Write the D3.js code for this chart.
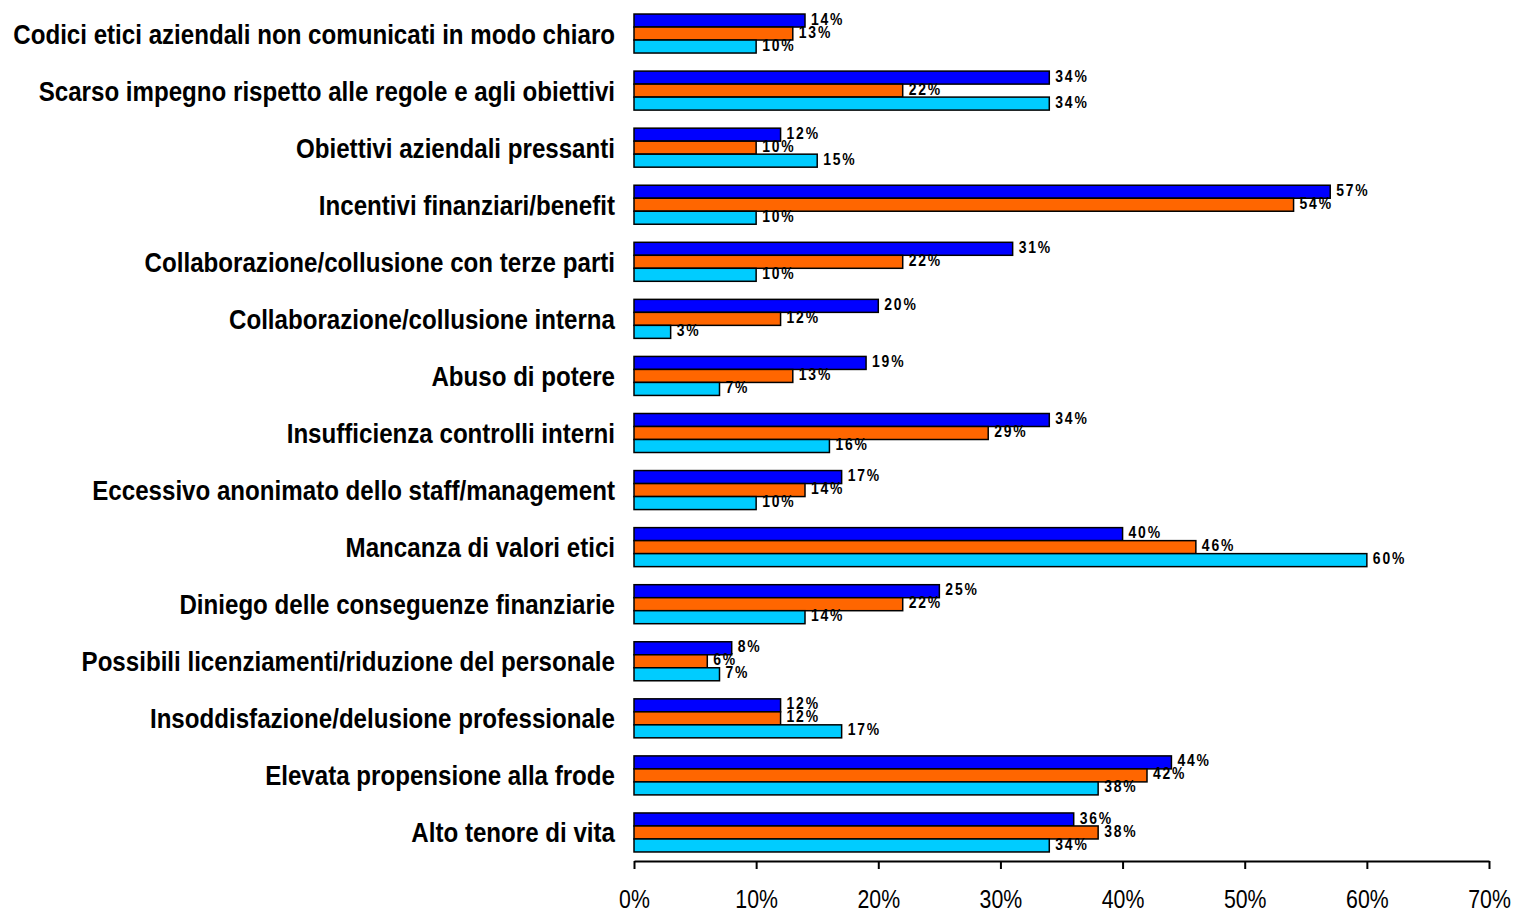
<!DOCTYPE html>
<html><head><meta charset="utf-8">
<script src="https://cdn.jsdelivr.net/npm/d3@7"></script>
<style>
body{margin:0;background:#fff;}
svg{display:block;}
.cat{font-family:"Liberation Sans",Arial,sans-serif;font-weight:bold;font-size:28px;}
.tick text{font-family:"Liberation Sans",Arial,sans-serif;font-size:26px;}
.val{font-family:"Liberation Sans",Arial,sans-serif;font-weight:bold;font-size:17px;letter-spacing:2.2px;}
</style></head><body>
<svg id="chart" width="1519" height="913"></svg>
<script>
const categories = [
 "Codici etici aziendali non comunicati in modo chiaro",
 "Scarso impegno rispetto alle regole e agli obiettivi",
 "Obiettivi aziendali pressanti",
 "Incentivi finanziari/benefit",
 "Collaborazione/collusione con terze parti",
 "Collaborazione/collusione interna",
 "Abuso di potere",
 "Insufficienza controlli interni",
 "Eccessivo anonimato dello staff/management",
 "Mancanza di valori etici",
 "Diniego delle conseguenze finanziarie",
 "Possibili licenziamenti/riduzione del personale",
 "Insoddisfazione/delusione professionale",
 "Elevata propensione alla frode",
 "Alto tenore di vita"
];
const seriesA = [14,34,12,57,31,20,19,34,17,40,25,8,12,44,36];
const seriesB = [13,22,10,54,22,12,13,29,14,46,22,6,12,42,38];
const seriesC = [10,34,15,10,10,3,7,16,10,60,14,7,17,38,34];
const seriesNames = ["A","B","C"];
const seriesColors = ["#0000FF","#FF6600","#00CCFF"];
const tickValues = [0,10,20,30,40,50,60,70];

const narrow = 0.82;
const svg = d3.select("#chart");
const x = d3.scaleLinear().domain([0,70]).range([634,1489]);
const y = d3.scaleBand().domain(categories).range([5,861]);
const groupH = 39;
const y1 = d3.scaleBand().domain(seriesNames).range([0,groupH]);

const data = categories.map((c,i)=>({cat:c, vals:[seriesA[i],seriesB[i],seriesC[i]]}));

const g = svg.selectAll("g.grp").data(data).join("g").attr("class","grp")
  .attr("transform",d=>`translate(0,${y(d.cat)+(y.bandwidth()-groupH)/2})`);

g.selectAll("rect").data(d=>d.vals.map((v,k)=>({v,k}))).join("rect")
  .attr("x",x(0)).attr("y",d=>y1(seriesNames[d.k]))
  .attr("width",d=>x(d.v)-x(0)).attr("height",y1.bandwidth())
  .attr("fill",d=>seriesColors[d.k]).attr("stroke","#000").attr("stroke-width",1.5);

g.selectAll("text.val").data(d=>d.vals.map((v,k)=>({v,k}))).join("text").attr("class","val")
  .attr("transform",d=>`translate(${x(d.v)+6},${y1(seriesNames[d.k])+y1.bandwidth()/2}) scale(${narrow},1)`)
  .attr("dy","0.24em")
  .text(d=>d.v+"%");

const cats = svg.selectAll("text.cat").data(categories).join("text").attr("class","cat")
  .attr("text-anchor","end").text(d=>d);
const w0 = cats.nodes()[0].getComputedTextLength();
const cs = 602 / w0;
cats.attr("transform",d=>`translate(615,${y(d)+y.bandwidth()/2+10}) scale(${cs},1)`);

const ax = svg.append("g").attr("transform","translate(0,861)")
  .call(d3.axisBottom(x).tickValues(tickValues).tickFormat(d=>d+"%").tickSize(8).tickSizeOuter(0));
ax.select(".domain").attr("stroke","#000").attr("stroke-width",2);
ax.selectAll(".tick line").attr("stroke","#000").attr("stroke-width",2);
ax.selectAll(".tick text").attr("y",null).attr("dy",null).attr("fill","#000")
  .attr("transform",`translate(0,47) scale(${narrow},1)`);
</script></body></html>
